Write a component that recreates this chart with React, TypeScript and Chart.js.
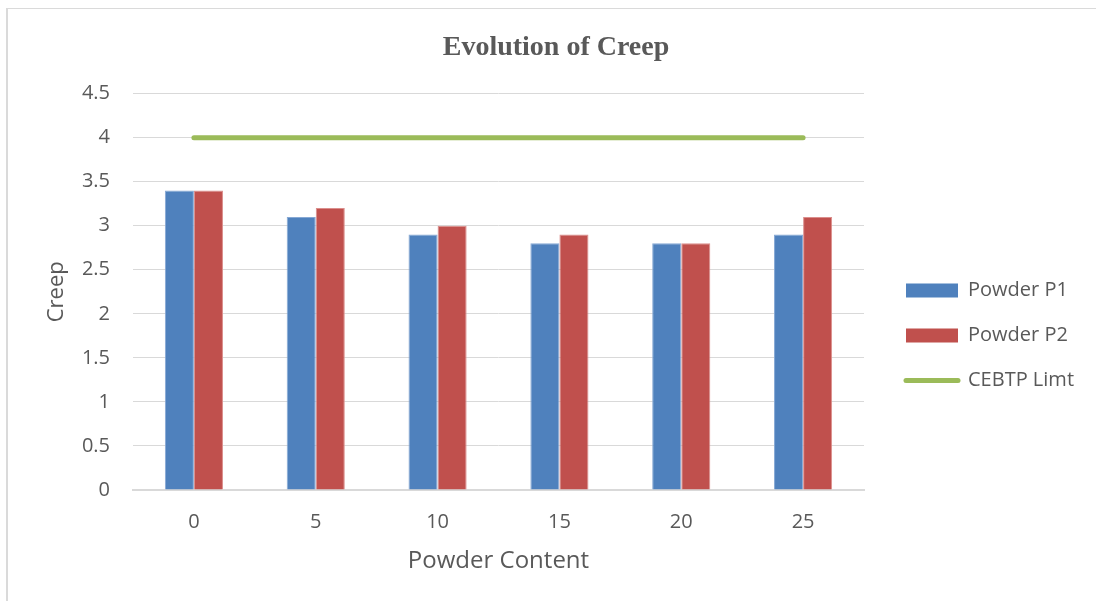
import React, { useEffect, useRef } from 'react';
import { Chart, registerables } from 'chart.js';

Chart.register(...registerables);

// ---- data ----
const categories = ['0', '5', '10', '15', '20', '25'];
const powderP1 = [3.4, 3.1, 2.9, 2.8, 2.8, 2.9];
const powderP2 = [3.4, 3.2, 3.0, 2.9, 2.8, 3.1];
const cebtpLimit = [4, 4, 4, 4, 4, 4];
const yTickLabels = ['0', '0.5', '1', '1.5', '2', '2.5', '3', '3.5', '4', '4.5'];
const seriesNames = ['Powder P1', 'Powder P2', 'CEBTP Limt'];

// ---- layout / style ----
const CANVAS_W = 1112;
const CANVAS_H = 601;
const Y_AXIS_W = 133;
const X_AXIS_H = 111;
const RIGHT_GUTTER = 248;
const LEGEND_GAP_X = 42;
const LEGEND_OFFSET_Y = 187;
const TEXT = '#595959';
const GRID = '#D9D9D9';
const SANS = "'Open Sans', 'Noto Sans', sans-serif";
const SERIF = "'Liberation Serif', 'Times New Roman', serif";

const legendPlacement = {
  id: 'legendPlacement',
  afterLayout(chart: any) {
    const lg = chart.legend;
    if (!lg) return;
    const pad = lg.options.labels.padding;
    const x = chart.chartArea.right + LEGEND_GAP_X - pad;
    const y = chart.chartArea.top + LEGEND_OFFSET_Y - pad;
    lg.left = x;
    lg.right = x + lg.width;
    lg.top = y;
    lg.bottom = y + lg.height;
  },
};

export default function App() {
  const ref = useRef<HTMLCanvasElement | null>(null);

  useEffect(() => {
    if (!ref.current) return;
    const chart = new Chart(ref.current, {
      type: 'bar',
      data: {
        labels: categories,
        datasets: [
          {
            type: 'bar',
            label: seriesNames[0],
            data: powderP1,
            backgroundColor: '#4F81BD',
            borderColor: '#86A8D4',
            borderWidth: 1,
            categoryPercentage: 0.477,
            barPercentage: 1,
            order: 2,
          },
          {
            type: 'bar',
            label: seriesNames[1],
            data: powderP2,
            backgroundColor: '#C0504D',
            borderColor: '#DB8E8C',
            borderWidth: 1,
            categoryPercentage: 0.477,
            barPercentage: 1,
            order: 2,
          },
          {
            type: 'line',
            label: seriesNames[2],
            data: cebtpLimit,
            borderColor: '#9BBB59',
            backgroundColor: '#9BBB59',
            borderWidth: 5,
            borderCapStyle: 'round',
            pointRadius: 0,
            pointHoverRadius: 0,
            fill: false,
            order: 1,
          } as any,
        ],
      },
      options: {
        responsive: false,
        animation: false,
        devicePixelRatio: 1,
        layout: { padding: 0 },
        plugins: {
          title: {
            display: true,
            text: 'Evolution of Creep',
            color: TEXT,
            font: { family: SERIF, size: 28, weight: 'bold', lineHeight: 1.2 },
            padding: { top: 31, bottom: 29 },
          },
          legend: {
            display: true,
            position: 'chartArea',
            align: 'start',
            labels: {
              color: TEXT,
              font: { family: SANS, size: 20 },
              usePointStyle: true,
              pointStyleWidth: 52,
              boxHeight: 14,
              padding: 25,
              sort: (a: any, b: any) => a.datasetIndex - b.datasetIndex,
              generateLabels: (c: any) => {
                const items = Chart.defaults.plugins.legend.labels.generateLabels(c);
                return items.map((it: any) => {
                  const isLine = it.datasetIndex === 2;
                  return {
                    ...it,
                    pointStyle: isLine ? 'line' : 'rect',
                    lineWidth: isLine ? 5 : 0,
                    lineCap: 'round',
                  };
                });
              },
            },
          },
          tooltip: { enabled: false },
        },
        scales: {
          x: {
            grid: { display: false, drawTicks: false },
            border: { display: true, color: GRID, width: 2 },
            ticks: { color: TEXT, font: { family: SANS, size: 20, lineHeight: 1.2 }, padding: 20 },
            title: {
              display: true,
              text: 'Powder Content',
              color: TEXT,
              font: { family: SANS, size: 24, lineHeight: 1.2 },
              padding: { top: 10, bottom: 25 },
            },
            afterFit: (s: any) => { s.height = X_AXIS_H; },
          },
          y: {
            min: 0,
            max: 4.5,
            grid: { color: GRID, lineWidth: 1, drawTicks: false },
            border: { display: false },
            ticks: {
              stepSize: 0.5,
              color: TEXT,
              font: { family: SANS, size: 20, lineHeight: 1.2 },
              padding: 23,
              callback: (_v: any, i: number) => yTickLabels[i],
            },
            title: {
              display: true,
              text: 'Creep',
              color: TEXT,
              font: { family: SANS, size: 22, lineHeight: 1.2 },
              padding: { top: 44, bottom: 10 },
            },
            afterFit: (s: any) => { s.width = Y_AXIS_W; },
          },
          spacer: {
            position: 'right',
            display: true,
            grid: { display: false, drawTicks: false },
            border: { display: false },
            ticks: { display: false },
            afterFit: (s: any) => { s.width = RIGHT_GUTTER; },
          },
        },
      } as any,
      plugins: [legendPlacement],
    });
    return () => chart.destroy();
  }, []);

  return (
    <div style={{ position: 'fixed', left: 0, top: 0, width: 1096, height: 601, overflow: 'hidden', background: '#fff' }}>
      <div
        style={{
          position: 'absolute',
          left: 6,
          top: 8,
          width: 1200,
          height: 700,
          borderLeft: '2px solid #DADADA',
          borderTop: '1px solid #DADADA',
        }}
      />
      <canvas
        ref={ref}
        width={CANVAS_W}
        height={CANVAS_H}
        style={{ position: 'absolute', left: 0, top: 0, width: CANVAS_W, height: CANVAS_H }}
      />
    </div>
  );
}
